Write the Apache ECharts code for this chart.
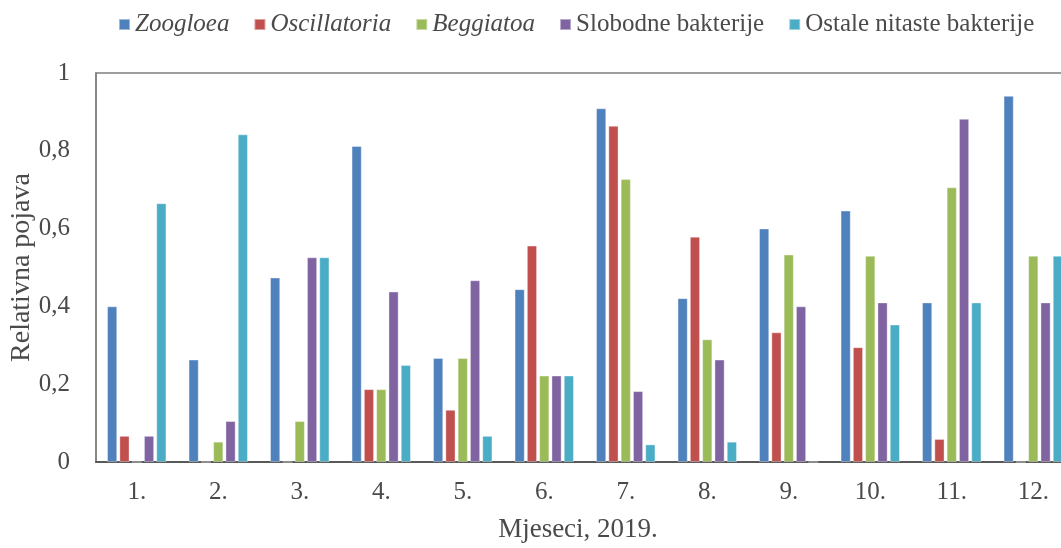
<!DOCTYPE html>
<html>
<head>
<meta charset="utf-8">
<script src="https://cdn.jsdelivr.net/npm/echarts@6/dist/echarts.min.js"></script>
<style>
  html, body { margin: 0; padding: 0; background: #fff; overflow: hidden; }
  /* plot runs past the right edge of the window in the original */
  #chart { width: 1074px; height: 548px; }
</style>
</head>
<body>
<div id="chart"></div>
<script>
const months = ['1.', '2.', '3.', '4.', '5.', '6.', '7.', '8.', '9.', '10.', '11.', '12.'];
const zoogloea = [0.40, 0.263, 0.474, 0.812, 0.267, 0.444, 0.909, 0.421, 0.600, 0.646, 0.41, 0.941];
const oscillatoria = [0.067, 0, 0, 0.187, 0.134, 0.556, 0.864, 0.579, 0.333, 0.295, 0.059, 0];
const beggiatoa = [0, 0.052, 0.105, 0.187, 0.267, 0.222, 0.727, 0.315, 0.533, 0.530, 0.706, 0.530];
const slobodne = [0.067, 0.105, 0.526, 0.438, 0.467, 0.222, 0.182, 0.263, 0.40, 0.41, 0.882, 0.41];
const ostale = [0.665, 0.842, 0.526, 0.249, 0.067, 0.222, 0.045, 0.052, 0, 0.353, 0.41, 0.53];

const seriesNames = ['Zoogloea', 'Oscillatoria', 'Beggiatoa', 'Slobodne bakterije', 'Ostale nitaste bakterije'];
const seriesData = [zoogloea, oscillatoria, beggiatoa, slobodne, ostale];
const colors = ['#4F81BD', '#C0504D', '#9BBB59', '#8064A2', '#4BACC6'];
const italicNames = ['Zoogloea', 'Oscillatoria', 'Beggiatoa'];

const font = '"Liberation Serif", "Times New Roman", serif';
const textColor = '#4a4a4a';

const chart = echarts.init(document.getElementById('chart'));

const option = {
  color: colors,
  animation: false,
  legend: {
    top: 7,
    left: 113,
    itemWidth: 11,
    itemHeight: 11,
    itemGap: 24,
    icon: 'rect',
    textStyle: { fontFamily: font, fontSize: 25, color: textColor },
    data: seriesNames.map(n => ({
      name: n,
      textStyle: italicNames.includes(n) ? { fontStyle: 'italic' } : {}
    }))
  },
  grid: {
    left: 96,
    right: 0,
    top: 73,
    bottom: 86,
    outerBoundsMode: 'none',
    show: true,
    borderColor: '#7f7f7f',
    borderWidth: 1.5
  },
  xAxis: {
    type: 'category',
    data: months,
    name: 'Mjeseci, 2019.',
    nameLocation: 'middle',
    nameGap: 54,
    nameTextStyle: { fontFamily: font, fontSize: 27, color: textColor, padding: [0, 14, 0, 0] },
    axisLine: { lineStyle: { color: '#595959', width: 2 } },
    axisTick: { show: false },
    axisLabel: { fontFamily: font, fontSize: 25, color: textColor, margin: 18 }
  },
  yAxis: {
    type: 'value',
    min: 0,
    max: 1,
    interval: 0.2,
    name: 'Relativna pojava',
    nameLocation: 'middle',
    nameGap: 60,
    nameMoveOverlap: false,
    nameTextStyle: { fontFamily: font, fontSize: 28, color: textColor },
    axisLine: { show: true, lineStyle: { color: '#7f7f7f', width: 1.5 } },
    axisTick: { show: false },
    splitLine: { show: false },
    axisLabel: {
      fontFamily: font,
      fontSize: 25,
      color: textColor,
      margin: 26,
      formatter: v => String(Math.round(v * 10) / 10).replace('.', ',')
    }
  },
  series: seriesNames.map((n, i) => ({
    name: n,
    type: 'bar',
    data: seriesData[i],
    barWidth: 10,
    barGap: '23%',
    itemStyle: { borderColor: 'rgba(255,255,255,0.45)', borderWidth: 0.8 }
  }))
};

chart.setOption(option);
</script>
</body>
</html>
